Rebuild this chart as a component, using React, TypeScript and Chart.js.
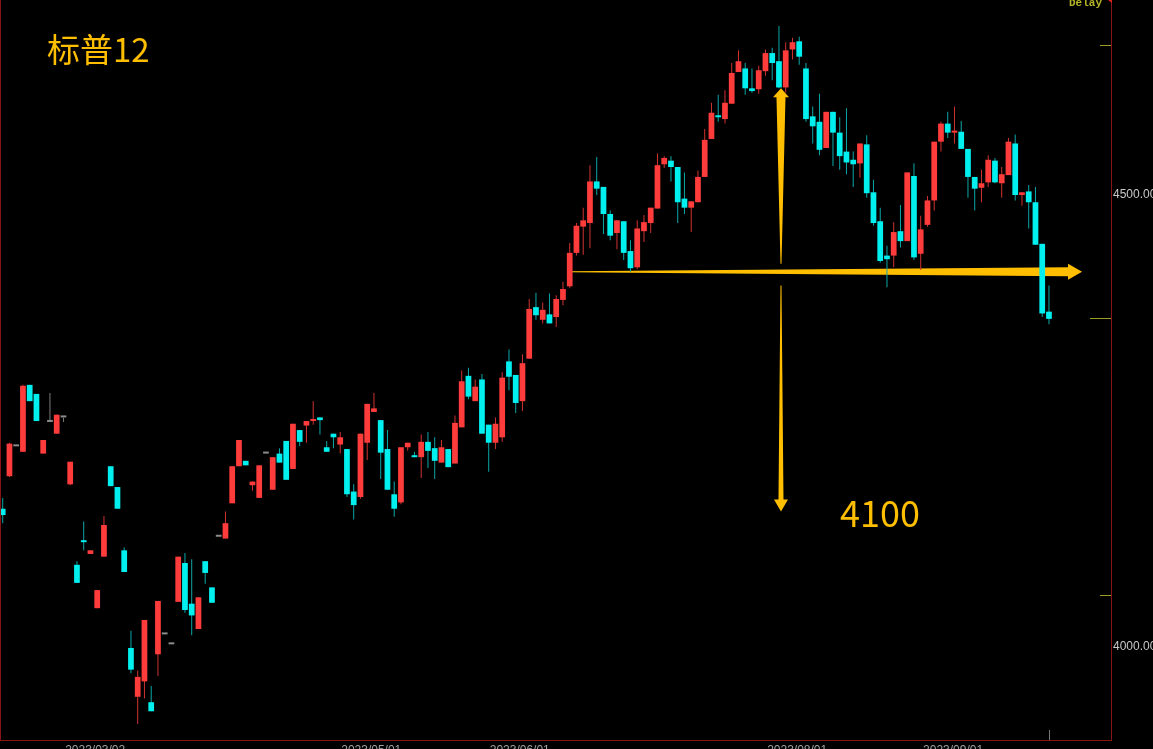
import React, { useEffect, useRef } from 'react';
import { Chart, registerables } from 'chart.js';

Chart.register(...registerables);

// ---- candle data (index order, prices in points) ----
const opens = [
  4153, 4189, 4222, 4216, 4290, 4280, 4214, 4249, 4236, 4254,
  4180, 4091, 4117, 4103, 4043, 4100, 4200, 4177, 4107, 3999,
  3945, 3962, 3939, 3992, 4014, 4003, 4050, 4093, 4048, 4020,
  4095, 4066, 4122, 4120, 4159, 4200, 4206, 4179, 4165, 4214,
  4174, 4214, 4228, 4197, 4240, 4245, 4250, 4254, 4221, 4236,
  4224, 4219, 4172, 4166, 4226, 4260, 4251, 4219, 4169, 4160,
  4221, 4212, 4210, 4227, 4220, 4204, 4219, 4203, 4243, 4300,
  4272, 4296, 4246, 4226, 4232, 4316, 4301, 4272, 4319, 4376,
  4362, 4368, 4365, 4384, 4399, 4436, 4465, 4469, 4515, 4509,
  4479, 4458, 4471, 4438, 4420, 4460, 4469, 4485, 4534, 4538,
  4531, 4496, 4486, 4492, 4520, 4562, 4588, 4584, 4601, 4636,
  4640, 4618, 4617, 4637, 4657, 4648, 4619, 4661, 4670, 4640,
  4587, 4581, 4552, 4592, 4569, 4548, 4539, 4535, 4556, 4503,
  4471, 4433, 4433, 4460, 4449, 4521, 4435, 4467, 4494, 4559,
  4579, 4569, 4570, 4551, 4520, 4508, 4514, 4538, 4513, 4522,
  4557, 4500, 4504, 4492, 4446, 4371,
];
const closes = [
  4146, 4225, 4222, 4289, 4272, 4250, 4229, 4249, 4257, 4254,
  4205, 4071, 4116, 4107, 4063, 4135, 4178, 4153, 4083, 3975,
  3967, 4030, 3929, 4051, 4014, 4003, 4100, 4041, 4035, 4055,
  4082, 4049, 4122, 4137, 4200, 4229, 4201, 4183, 4201, 4214,
  4210, 4204, 4185, 4247, 4227, 4250, 4252, 4251, 4216, 4232,
  4232, 4169, 4157, 4236, 4269, 4264, 4215, 4174, 4153, 4221,
  4226, 4210, 4227, 4217, 4206, 4221, 4199, 4248, 4294, 4277,
  4288, 4236, 4226, 4247, 4298, 4299, 4270, 4314, 4374, 4367,
  4373, 4358, 4385, 4396, 4436, 4466, 4472, 4515, 4507, 4479,
  4455, 4472, 4436, 4419, 4463, 4470, 4486, 4533, 4541, 4531,
  4492, 4486, 4493, 4520, 4561, 4591, 4586, 4602, 4635, 4648,
  4618, 4615, 4638, 4657, 4646, 4619, 4660, 4669, 4653, 4584,
  4576, 4550, 4592, 4569, 4543, 4536, 4534, 4557, 4502, 4469,
  4427, 4429, 4459, 4449, 4525, 4431, 4462, 4494, 4559, 4579,
  4569, 4570, 4551, 4520, 4507, 4513, 4539, 4514, 4523, 4559,
  4500, 4503, 4492, 4445, 4369, 4363,
];
const highs = [
  4165, 4226, 4222, 4290, 4290, 4280, 4229, 4281, 4257, 4254,
  4205, 4095, 4139, 4107, 4063, 4145, 4200, 4177, 4110, 4018,
  3974, 4030, 3957, 4051, 4014, 4003, 4100, 4104, 4097, 4055,
  4095, 4066, 4122, 4150, 4200, 4229, 4206, 4183, 4201, 4214,
  4210, 4220, 4228, 4247, 4240, 4250, 4272, 4254, 4228, 4236,
  4238, 4219, 4180, 4236, 4269, 4281, 4251, 4240, 4183, 4221,
  4226, 4216, 4235, 4238, 4232, 4229, 4219, 4256, 4306, 4309,
  4296, 4302, 4246, 4254, 4304, 4329, 4301, 4324, 4385, 4392,
  4381, 4391, 4389, 4404, 4447, 4469, 4486, 4533, 4542, 4509,
  4483, 4472, 4471, 4450, 4472, 4478, 4486, 4546, 4543, 4543,
  4531, 4525, 4493, 4527, 4573, 4602, 4611, 4616, 4646, 4660,
  4646, 4640, 4643, 4661, 4663, 4687, 4669, 4674, 4675, 4646,
  4598, 4612, 4592, 4592, 4586, 4596, 4548, 4557, 4566, 4517,
  4486, 4444, 4470, 4489, 4525, 4535, 4477, 4499, 4559, 4581,
  4592, 4598, 4582, 4551, 4520, 4528, 4544, 4541, 4531, 4563,
  4567, 4503, 4511, 4509, 4446, 4400,
];
const lows = [
  4137, 4188, 4222, 4216, 4272, 4250, 4214, 4249, 4236, 4249,
  4179, 4071, 4107, 4103, 4043, 4100, 4178, 4153, 4083, 3971,
  3915, 3943, 3929, 3968, 4014, 4003, 4050, 4038, 4013, 4020,
  4070, 4049, 4122, 4120, 4159, 4200, 4201, 4173, 4165, 4214,
  4174, 4204, 4185, 4197, 4222, 4226, 4246, 4235, 4216, 4220,
  4214, 4166, 4141, 4164, 4207, 4260, 4186, 4174, 4144, 4158,
  4217, 4210, 4187, 4198, 4186, 4204, 4199, 4203, 4243, 4274,
  4272, 4236, 4194, 4219, 4227, 4284, 4259, 4261, 4319, 4362,
  4358, 4358, 4354, 4378, 4397, 4433, 4434, 4441, 4500, 4457,
  4450, 4440, 4428, 4415, 4418, 4448, 4458, 4485, 4530, 4515,
  4469, 4479, 4459, 4492, 4520, 4562, 4581, 4579, 4601, 4636,
  4611, 4613, 4612, 4632, 4627, 4618, 4613, 4650, 4644, 4581,
  4557, 4544, 4552, 4532, 4528, 4523, 4509, 4519, 4497, 4466,
  4425, 4398, 4420, 4442, 4449, 4428, 4417, 4465, 4483, 4548,
  4563, 4557, 4551, 4497, 4483, 4492, 4509, 4513, 4497, 4522,
  4494, 4488, 4463, 4445, 4365, 4357,
];

// ---- axis data ----
const xTickIdx = [13.7, 54.6, 76.6, 117.7, 140.8];
const xTickLabels = ['2023/03/02', '2023/05/01', '2023/06/01', '2023/08/01', '2023/09/01'];
const yTickValues = [4000, 4500];
const markLevels = [4666, 4364, 4058];
const markLens = [11, 21, 11];

// ---- annotations (data coordinates: candle index / price) ----
const hArrow = { price: 4415, fromIdx: 84, toIdx: 159.9 };
const upArrow = { idx: 115.3, fromPrice: 4424, toPrice: 4618 };
const downArrow = { idx: 115.3, fromPrice: 4400, toPrice: 4150 };

const X_MIN = -0.4;
const X_MAX = 164.19;
const Y_MIN = 3897.2;
const Y_MAX = 4715.7;

const RED = '#ff3c3c';
const CYAN = '#00f0f0';
const GRAY = '#8c8c8c';
const RED_W = '#d23232';
const CYAN_W = '#0aa8a8';
const GRAY_W = '#7a7a7a';
const GOLD = '#ffbf00';
const AXIS_COLOR = '#861616';

const dirColor = (i: number, up: string, down: string, flat: string) =>
  closes[i] > opens[i] ? up : closes[i] < opens[i] ? down : flat;

const annotationPlugin = {
  id: 'annotations',
  beforeDatasetsDraw(chart: any) {
    const { ctx, scales } = chart;
    const x = scales.x;
    const y = scales.y;
    ctx.save();
    ctx.fillStyle = GOLD;

    // horizontal tapered arrow
    const hy = y.getPixelForValue(hArrow.price);
    const hx0 = x.getPixelForValue(hArrow.fromIdx);
    const hx1 = x.getPixelForValue(hArrow.toIdx);
    ctx.beginPath();
    ctx.moveTo(hx0, hy - 0.5);
    ctx.lineTo(hx1 - 14, hy - 4.5);
    ctx.lineTo(hx1 - 14, hy - 8);
    ctx.lineTo(hx1, hy);
    ctx.lineTo(hx1 - 14, hy + 8);
    ctx.lineTo(hx1 - 14, hy + 4.5);
    ctx.lineTo(hx0, hy + 0.5);
    ctx.closePath();
    ctx.fill();

    // up arrow
    const ux = x.getPixelForValue(upArrow.idx);
    const uy0 = y.getPixelForValue(upArrow.fromPrice);
    const uy1 = y.getPixelForValue(upArrow.toPrice);
    ctx.beginPath();
    ctx.moveTo(ux - 0.5, uy0);
    ctx.lineTo(ux - 4.5, uy1 + 9);
    ctx.lineTo(ux - 8, uy1 + 9);
    ctx.lineTo(ux, uy1);
    ctx.lineTo(ux + 8, uy1 + 9);
    ctx.lineTo(ux + 4.5, uy1 + 9);
    ctx.lineTo(ux + 0.5, uy0);
    ctx.closePath();
    ctx.fill();

    // down arrow
    const dx = x.getPixelForValue(downArrow.idx);
    const dy0 = y.getPixelForValue(downArrow.fromPrice);
    const dy1 = y.getPixelForValue(downArrow.toPrice);
    ctx.beginPath();
    ctx.moveTo(dx - 0.5, dy0);
    ctx.lineTo(dx - 2.5, dy1 - 12);
    ctx.lineTo(dx - 7, dy1 - 12);
    ctx.lineTo(dx, dy1);
    ctx.lineTo(dx + 7, dy1 - 12);
    ctx.lineTo(dx + 2.5, dy1 - 12);
    ctx.lineTo(dx + 0.5, dy0);
    ctx.closePath();
    ctx.fill();
    ctx.restore();
  },
  afterDraw(chart: any) {
    const { ctx, chartArea: a, scales } = chart;
    const x = scales.x;
    const y = scales.y;
    ctx.save();
    // left border
    ctx.strokeStyle = AXIS_COLOR;
    ctx.lineWidth = 1;
    ctx.beginPath();
    ctx.moveTo(a.left + 0.5, a.top);
    ctx.lineTo(a.left + 0.5, a.bottom);
    ctx.stroke();
    // price level marks on the axis
    ctx.strokeStyle = '#9c9c24';
    markLevels.forEach((p, i) => {
      const py = Math.round(y.getPixelForValue(p)) + 0.5;
      ctx.beginPath();
      ctx.moveTo(a.right - markLens[i], py);
      ctx.lineTo(a.right, py);
      ctx.stroke();
    });
    // current-bar marker at the bottom
    const lx = Math.round(x.getPixelForValue(closes.length - 1)) + 0.5;
    ctx.strokeStyle = '#777777';
    ctx.beginPath();
    ctx.moveTo(lx, a.bottom - 10);
    ctx.lineTo(lx, a.bottom);
    ctx.stroke();
    // small red marker at top of the axis
    ctx.fillStyle = '#e02020';
    ctx.beginPath();
    ctx.moveTo(a.right - 3, a.top);
    ctx.lineTo(a.right + 1, a.top);
    ctx.lineTo(a.right + 1, a.top + 3);
    ctx.closePath();
    ctx.fill();
    ctx.restore();
  },
};

export default function App() {
  const canvasRef = useRef<HTMLCanvasElement | null>(null);

  useEffect(() => {
    document.body.style.margin = '0';
    document.body.style.background = '#000';
    Chart.defaults.font.family = '"Liberation Sans", Arial, sans-serif';
    const bodyData = opens.map((o, i) => ({ x: i, y: [o, closes[i]] }));
    const wickData = opens.map((_, i) => ({ x: i, y: [lows[i], highs[i]] }));
    const bodyColors = opens.map((_, i) => dirColor(i, RED, CYAN, GRAY));
    const wickColors = opens.map((_, i) => dirColor(i, RED_W, CYAN_W, GRAY_W));

    const chart = new Chart(canvasRef.current as HTMLCanvasElement, {
      type: 'bar',
      data: {
        datasets: [
          {
            label: 'body',
            data: bodyData as any,
            backgroundColor: bodyColors,
            borderWidth: 0,
            grouped: false,
            categoryPercentage: 1,
            barPercentage: 0.85,
            minBarLength: 2,
            order: 0,
          } as any,
          {
            label: 'wick',
            data: wickData as any,
            backgroundColor: wickColors,
            borderWidth: 0,
            grouped: false,
            categoryPercentage: 1,
            barPercentage: 0.15,
            maxBarThickness: 1,
            order: 1,
          } as any,
        ],
      },
      options: {
        animation: false,
        responsive: true,
        maintainAspectRatio: false,
        events: [],
        layout: { padding: 0 },
        plugins: { legend: { display: false }, tooltip: { enabled: false }, title: { display: false } },
        scales: {
          x: {
            type: 'linear',
            min: X_MIN,
            max: X_MAX,
            offset: false,
            position: 'bottom',
            grid: { display: false, drawTicks: false },
            border: { display: true, color: AXIS_COLOR, width: 1 },
            ticks: {
              color: '#a0a0a0',
              font: { size: 12 },
              padding: 3,
              autoSkip: false,
              maxRotation: 0,
              minRotation: 0,
              callback: (_v: any, i: number) => xTickLabels[i] ?? '',
            },
            afterBuildTicks: (s: any) => {
              s.ticks = xTickIdx.map((v) => ({ value: v }));
            },
            afterFit: (s: any) => {
              s.height = 9;
              s.paddingLeft = 0;
              s.paddingRight = 0;
              s.paddingTop = 0;
              s.paddingBottom = 0;
            },
          } as any,
          y: {
            type: 'linear',
            position: 'right',
            min: Y_MIN,
            max: Y_MAX,
            grid: { display: false, drawTicks: false },
            border: { display: true, color: AXIS_COLOR, width: 1 },
            ticks: {
              color: '#c8c8c8',
              font: { size: 12 },
              padding: 2,
              callback: (v: any) => Number(v).toFixed(2),
            },
            afterBuildTicks: (s: any) => {
              s.ticks = yTickValues.map((v) => ({ value: v }));
            },
            afterFit: (s: any) => {
              s.width = 42;
              s.paddingTop = 0;
              s.paddingBottom = 0;
              s.paddingLeft = 0;
              s.paddingRight = 0;
            },
          } as any,
        },
      },
      plugins: [annotationPlugin],
    });
    return () => chart.destroy();
  }, []);

  return (
    <div
      style={{
        position: 'fixed',
        left: 0,
        top: 0,
        width: 1153,
        height: 749,
        background: '#000',
        overflow: 'hidden',
      }}
    >
      <canvas ref={canvasRef} />
      <div
        style={{
          position: 'absolute',
          left: 47,
          top: 32,
          fontFamily: '"Noto Sans CJK SC", sans-serif',
          fontSize: 33,
          lineHeight: '33px',
          color: GOLD,
          whiteSpace: 'nowrap',
        }}
      >
        标普12
      </div>
      <div
        style={{
          position: 'absolute',
          left: 840,
          top: 493,
          fontFamily: '"Noto Sans CJK SC", sans-serif',
          fontSize: 36,
          lineHeight: '36px',
          color: GOLD,
          whiteSpace: 'nowrap',
        }}
      >
        4100
      </div>
      <div
        style={{
          position: 'absolute',
          left: 1069,
          top: -2,
          fontFamily: '"Liberation Mono", monospace',
          fontWeight: 'bold',
          fontSize: 11,
          lineHeight: '10px',
          color: '#b4b428',
          whiteSpace: 'nowrap',
        }}
      >
        Delay
      </div>
    </div>
  );
}
